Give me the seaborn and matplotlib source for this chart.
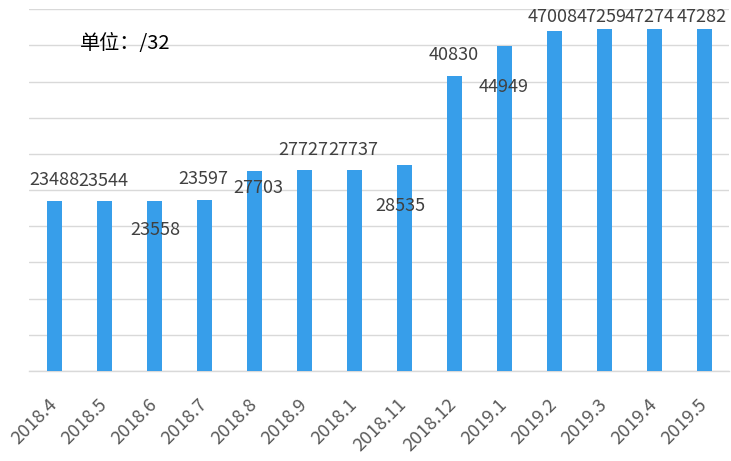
import matplotlib
matplotlib.use("Agg")
import matplotlib.pyplot as plt
import seaborn as sns
import pandas as pd

months = ["2018.4", "2018.5", "2018.6", "2018.7", "2018.8", "2018.9", "2018.1",
          "2018.11", "2018.12", "2019.1", "2019.2", "2019.3", "2019.4", "2019.5"]
values = [23488, 23544, 23558, 23597, 27703, 27727, 27737,
          28535, 40830, 44949, 47008, 47259, 47274, 47282]
unit_text = "单位：/32"

# label offsets (pixels) from bar top centre, mimicking the original placement
label_dx = [0.5, -0.5, 1.5, -0.5, 4.5, -0.5, -0.5, -3.5, -0.5, -0.5, -1, -2, -4, -2]
label_dy = [21, 20, -29, 21, -17, 20, 20, -41, 21, -41, 14, 12, 12, 12]

sns.set_theme(style="white")
plt.rcParams["font.family"] = ["Noto Sans CJK SC", "DejaVu Sans"]

df = pd.DataFrame({"month": months, "value": values})

fig = plt.figure(figsize=(7.31, 4.61), dpi=100)
ax = fig.add_axes([29 / 731, 1 - 371 / 461, 700 / 731, (371 - 9.3) / 461])

sns.barplot(data=df, x="month", y="value", color="#379EEA", width=0.3,
            saturation=1, ax=ax, zorder=3, linewidth=0)

ax.set_xlim(-0.5, len(months) - 0.5)
ax.set_ylim(0, 50000)
ax.set_yticks(range(0, 50001, 5000))
ax.set_yticklabels([])
ax.tick_params(axis="y", length=0)
ax.yaxis.grid(True, color="#d9d9d9", linewidth=1, zorder=0)
ax.set_axisbelow(True)
for s in ["top", "right", "left"]:
    ax.spines[s].set_visible(False)
ax.spines["bottom"].set_color("#d9d9d9")
ax.spines["bottom"].set_linewidth(1)
ax.set_xlabel("")
ax.set_ylabel("")

ax.tick_params(axis="x", length=0, pad=22, colors="#595959")
for lab in ax.get_xticklabels():
    lab.set_rotation(45)
    lab.set_ha("right")
    lab.set_va("center")
    lab.set_rotation_mode("anchor")
    lab.set_fontsize(13.2)
    lab.set_color("#595959")

for i, v in enumerate(values):
    ax.annotate(str(v), xy=(i, v), xytext=(label_dx[i], label_dy[i]),
                textcoords="offset pixels", ha="center", va="center",
                fontsize=13, color="#404040", zorder=5)

fig.text(80 / 731, 1 - 43 / 461, unit_text, ha="left", va="center",
         fontsize=14.5, color="#000000")

fig.savefig("out.png", dpi=100)
